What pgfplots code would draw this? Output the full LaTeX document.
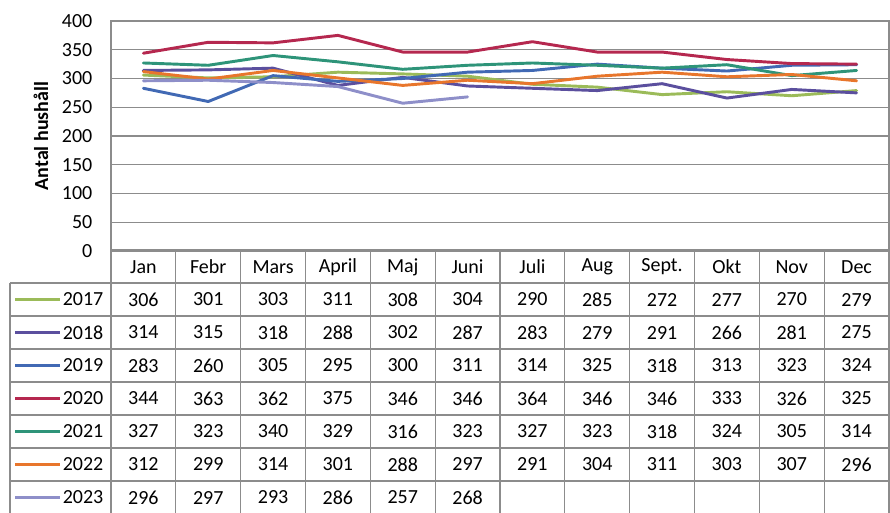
\documentclass[border=0pt]{standalone}
\usepackage{fontspec}
\setmainfont{Carlito}
\usepackage{pgfplots}
\usepackage{pgfplotstable}
\pgfplotsset{compat=1.18}
\definecolor{c17}{HTML}{9BBB59}
\definecolor{c18}{HTML}{5B4F9E}
\definecolor{c19}{HTML}{4169B4}
\definecolor{c20}{HTML}{B5284F}
\definecolor{c21}{HTML}{2E9479}
\definecolor{c22}{HTML}{E8762C}
\definecolor{c23}{HTML}{8E8FC9}
\definecolor{gridc}{HTML}{8C8C8C}

\pgfplotstableread{
m y2017 y2018 y2019 y2020 y2021 y2022 y2023
0 306 314 283 344 327 312 296
1 301 315 260 363 323 299 297
2 303 318 305 362 340 314 293
3 311 288 295 375 329 301 286
4 308 302 300 346 316 288 257
5 304 287 311 346 323 297 268
6 290 283 314 364 327 291 nan
7 285 279 325 346 323 304 nan
8 272 291 318 346 318 311 nan
9 277 266 313 333 324 303 nan
10 270 281 323 326 305 307 nan
11 279 275 324 325 314 296 nan
}\data

\newcommand\tf{\fontsize{15}{18}\selectfont}

\begin{document}
\begin{tikzpicture}
\clip (0,0) rectangle (667.5pt,-384pt);
% ---- table axis ----
\begin{axis}[
  at={(83.25pt,-187.5pt)}, anchor=north west,
  scale only axis, width=583.5pt, height=198pt,
  xmin=-0.5, xmax=11.5, ymin=-0.5, ymax=7.5, y dir=reverse,
  axis line style={draw=none},
  xtick={-0.5,0.5,...,11.5}, ytick={-0.5,0.5,...,7.5},
  xticklabels={}, yticklabels={},
  major tick length=0pt, tick style={draw=none},
  xmajorgrids, ymajorgrids,
  major grid style={gridc, line width=0.8pt},
  clip=false,
  every node near coord/.append style={anchor=center, font=\tf, inner sep=0pt, text=black},
]
\addplot[draw=none, mark=none, nodes near coords, point meta=explicit symbolic] table[x=m, y expr=1, meta=y2017]{\data};
\addplot[draw=none, mark=none, nodes near coords, point meta=explicit symbolic] table[x=m, y expr=2, meta=y2018]{\data};
\addplot[draw=none, mark=none, nodes near coords, point meta=explicit symbolic] table[x=m, y expr=3, meta=y2019]{\data};
\addplot[draw=none, mark=none, nodes near coords, point meta=explicit symbolic] table[x=m, y expr=4, meta=y2020]{\data};
\addplot[draw=none, mark=none, nodes near coords, point meta=explicit symbolic] table[x=m, y expr=5, meta=y2021]{\data};
\addplot[draw=none, mark=none, nodes near coords, point meta=explicit symbolic] table[x=m, y expr=6, meta=y2022]{\data};
\addplot[draw=none, mark=none, nodes near coords, point meta=explicit symbolic, restrict x to domain=0:5] table[x=m, y expr=7, meta=y2023]{\data};
% left column grid
\pgfplotsinvokeforeach{0.5,1.5,2.5,3.5,4.5,5.5,6.5,7.5}{
  \draw[gridc, line width=0.8pt] (axis cs:-2.058,#1) -- (axis cs:-0.5,#1);
}
\draw[gridc, line width=0.8pt] (axis cs:-2.058,0.5) -- (axis cs:-2.058,7.5);
% legend keys
\draw[c17, line width=2.5pt] (axis cs:-1.98,1) -- (axis cs:-1.29,1) node[right, inner sep=1pt, text=black, font=\tf] {2017};
\draw[c18, line width=2.5pt] (axis cs:-1.98,2) -- (axis cs:-1.29,2) node[right, inner sep=1pt, text=black, font=\tf] {2018};
\draw[c19, line width=2.5pt] (axis cs:-1.98,3) -- (axis cs:-1.29,3) node[right, inner sep=1pt, text=black, font=\tf] {2019};
\draw[c20, line width=2.5pt] (axis cs:-1.98,4) -- (axis cs:-1.29,4) node[right, inner sep=1pt, text=black, font=\tf] {2020};
\draw[c21, line width=2.5pt] (axis cs:-1.98,5) -- (axis cs:-1.29,5) node[right, inner sep=1pt, text=black, font=\tf] {2021};
\draw[c22, line width=2.5pt] (axis cs:-1.98,6) -- (axis cs:-1.29,6) node[right, inner sep=1pt, text=black, font=\tf] {2022};
\draw[c23, line width=2.5pt] (axis cs:-1.98,7) -- (axis cs:-1.29,7) node[right, inner sep=1pt, text=black, font=\tf] {2023};
\end{axis}
% ---- main chart axis ----
\begin{axis}[
  at={(83.25pt,-188.25pt)}, anchor=south west,
  scale only axis, width=583.5pt, height=172.5pt,
  xmin=-0.5, xmax=11.5, ymin=0, ymax=400,
  ytick={0,50,...,400},
  ymajorgrids,
  major grid style={gridc, line width=0.8pt},
  axis line style={gridc, line width=0.8pt},
  xtick={0,...,11},
  xticklabels={Jan,Febr,Mars,April,Maj,Juni,Juli,Aug,Sept.,Okt,Nov,Dec},
  major tick length=0pt, tick style={draw=none},
  xticklabel style={anchor=center, yshift=-12pt},
  yticklabel style={anchor=east, xshift=-10.5pt},
  tick label style={font=\tf, text=black},
  /pgf/number format/assume math mode=true,
  ylabel={\textbf{Antal hushåll}},
  every axis y label/.style={at={(axis description cs:-0.09,0.5)}, rotate=90, anchor=center, font=\tf},
  every axis plot/.append style={line width=2.2pt, line join=round, line cap=round, sharp plot, mark=none},
]
\addplot[c17] table[x=m, y=y2017]{\data};
\addplot[c18] table[x=m, y=y2018]{\data};
\addplot[c19] table[x=m, y=y2019]{\data};
\addplot[c20] table[x=m, y=y2020]{\data};
\addplot[c21] table[x=m, y=y2021]{\data};
\addplot[c22] table[x=m, y=y2022]{\data};
\addplot[c23] table[x=m, y=y2023]{\data};
\end{axis}
\end{tikzpicture}
\end{document}
